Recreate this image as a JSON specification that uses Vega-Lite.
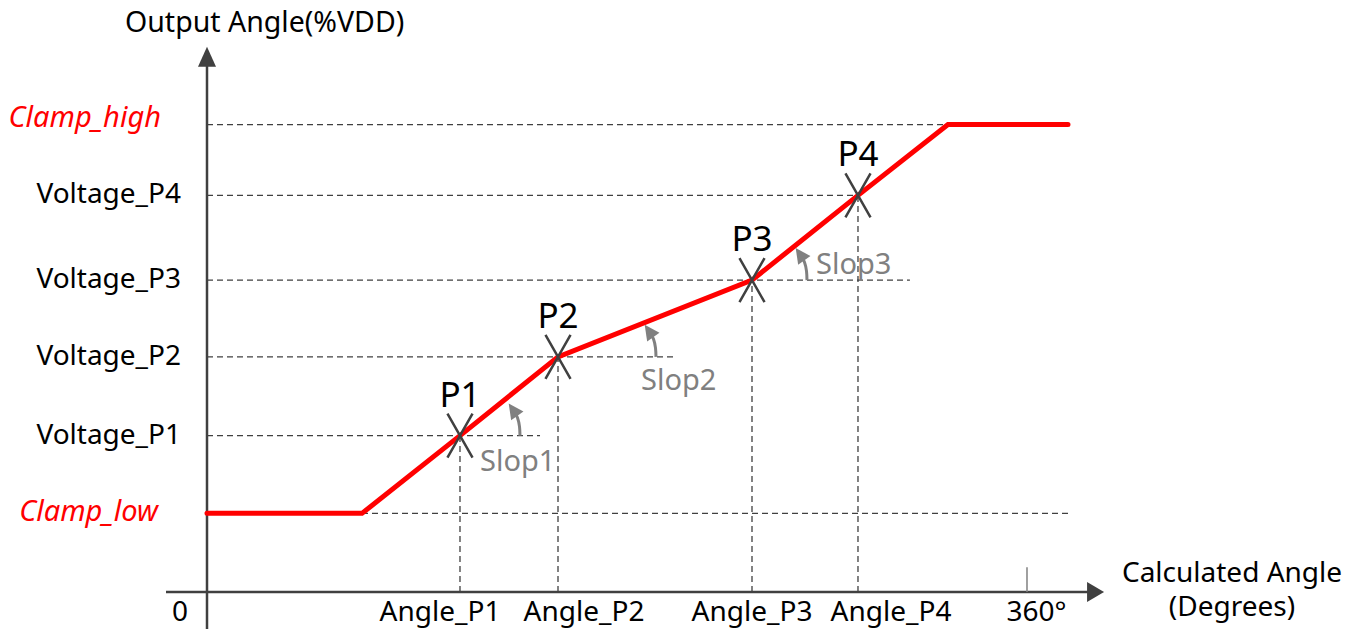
{
  "$schema": "https://vega.github.io/schema/vega-lite/v6.json",
  "width": 1359,
  "height": 631,
  "autosize": {"type": "fit", "contains": "padding"},
  "padding": 0,
  "background": "white",
  "config": {"view": {"stroke": null}, "text": {"font": "Noto Sans"}},
  "encoding": {
    "x": {"field": "x", "type": "quantitative", "scale": {"domain": [-90.88, 505.76], "nice": false, "zero": false}, "axis": null},
    "y": {"field": "y", "type": "quantitative", "scale": {"domain": [-7.4, 118.8], "nice": false, "zero": false}, "axis": null}
  },
  "layer": [
    {
      "data": {"values": [
        {"x": 0, "y": 93.8, "x2": 325.3, "y2": 93.8},
        {"x": 0, "y": 79.6, "x2": 285.8, "y2": 79.6},
        {"x": 0, "y": 62.6, "x2": 308.6, "y2": 62.6},
        {"x": 0, "y": 47.2, "x2": 205.9, "y2": 47.2},
        {"x": 0, "y": 31.4, "x2": 146.2, "y2": 31.4},
        {"x": 68.05, "y": 15.8, "x2": 378.0, "y2": 15.8},
        {"x": 111.07, "y": 0, "x2": 111.07, "y2": 31.4},
        {"x": 154.1, "y": 0, "x2": 154.1, "y2": 47.2},
        {"x": 239.27, "y": 0, "x2": 239.27, "y2": 62.6},
        {"x": 285.8, "y": 0, "x2": 285.8, "y2": 79.6}
      ]},
      "mark": {"type": "rule", "color": "#404040", "strokeWidth": 1.3, "strokeDash": [6, 4]},
      "encoding": {"x2": {"field": "x2"}, "y2": {"field": "y2"}}
    },
    {
      "data": {"values": [
        {"x": 0, "y": -7.4, "x2": 0, "y2": 106.4},
        {"x": -18, "y": 0, "x2": 387.66, "y2": 0}
      ]},
      "mark": {"type": "rule", "color": "#404040", "strokeWidth": 2.5},
      "encoding": {"x2": {"field": "x2"}, "y2": {"field": "y2"}}
    },
    {
      "data": {"values": [
        {"x": 360, "y": 0, "x2": 360, "y2": 5}
      ]},
      "mark": {"type": "rule", "color": "#808080", "strokeWidth": 1.5},
      "encoding": {"x2": {"field": "x2"}, "y2": {"field": "y2"}}
    },
    {
      "data": {"values": [{"x": 0, "y": 107.4}]},
      "mark": {"type": "point", "shape": "M0,-1L0.9,1L-0.9,1Z", "size": 400, "filled": true, "color": "#404040", "opacity": 1}
    },
    {
      "data": {"values": [{"x": 390.1, "y": 0}]},
      "mark": {"type": "point", "shape": "M0.85,0L-0.85,-1L-0.85,1Z", "size": 400, "filled": true, "color": "#404040", "opacity": 1}
    },
    {
      "data": {"values": [
        {"x": 0, "y": 15.8},
        {"x": 68.05, "y": 15.8},
        {"x": 111.07, "y": 31.4},
        {"x": 154.1, "y": 47.2},
        {"x": 239.27, "y": 62.6},
        {"x": 285.8, "y": 79.6},
        {"x": 325.3, "y": 93.8},
        {"x": 378.0, "y": 93.8}
      ]},
      "mark": {"type": "line", "color": "#ff0000", "strokeWidth": 5, "strokeCap": "round"}
    },
    {
      "data": {"values": [
        {"g": "Slop1", "o": 1, "x": 137.41, "y": 31.4},
        {"g": "Slop1", "o": 2, "x": 137.2, "y": 33.2},
        {"g": "Slop1", "o": 3, "x": 136.32, "y": 35.0},
        {"g": "Slop1", "o": 4, "x": 134.8, "y": 36.3},
        {"g": "Slop2", "o": 1, "x": 197.12, "y": 47.2},
        {"g": "Slop2", "o": 2, "x": 196.9, "y": 49.0},
        {"g": "Slop2", "o": 3, "x": 196.02, "y": 50.8},
        {"g": "Slop2", "o": 4, "x": 194.5, "y": 52.1},
        {"g": "Slop3", "o": 1, "x": 263.41, "y": 62.6},
        {"g": "Slop3", "o": 2, "x": 263.2, "y": 64.4},
        {"g": "Slop3", "o": 3, "x": 262.32, "y": 66.2},
        {"g": "Slop3", "o": 4, "x": 260.8, "y": 67.5}
      ]},
      "mark": {"type": "line", "color": "#808080", "strokeWidth": 3, "interpolate": "natural"},
      "encoding": {"detail": {"field": "g"}, "order": {"field": "o", "type": "quantitative"}}
    },
    {
      "data": {"values": [
        {"g": "Slop1", "x": 134.34, "y": 36.6},
        {"g": "Slop2", "x": 194.05, "y": 52.4},
        {"g": "Slop3", "x": 260.34, "y": 67.8}
      ]},
      "mark": {"type": "point", "shape": "M0,-1L1,1L-1,1Z", "size": 225, "angle": -35, "filled": true, "color": "#808080", "opacity": 1}
    },
    {
      "data": {"values": [
        {"p": "P1", "x": 111.07, "y": 31.4},
        {"p": "P2", "x": 154.1, "y": 47.2},
        {"p": "P3", "x": 239.27, "y": 62.6},
        {"p": "P4", "x": 285.8, "y": 79.6}
      ]},
      "layer": [
        {"mark": {"type": "point", "shape": "M-0.57,-1L0.57,1M0.57,-1L-0.57,1", "size": 1936, "filled": false, "color": "#404040", "strokeWidth": 2.5, "opacity": 1}},
        {"mark": {"type": "text", "fontSize": 35, "align": "center", "baseline": "alphabetic", "dy": -29, "color": "#000000"}, "encoding": {"text": {"field": "p"}}}
      ]
    },
    {
      "data": {"values": [
        {"t": "Voltage_P4", "x": -11.41, "y": 79.6},
        {"t": "Voltage_P3", "x": -11.41, "y": 62.6},
        {"t": "Voltage_P2", "x": -11.41, "y": 47.2},
        {"t": "Voltage_P1", "x": -11.41, "y": 31.4}
      ]},
      "mark": {"type": "text", "fontSize": 28, "align": "right", "baseline": "middle", "color": "#000000"},
      "encoding": {"text": {"field": "t"}}
    },
    {
      "data": {"values": [
        {"t": "Clamp_high", "x": -20.2, "y": 95.2},
        {"t": "Clamp_low", "x": -21.5, "y": 16.0}
      ]},
      "mark": {"type": "text", "fontSize": 29, "fontStyle": "italic", "align": "right", "baseline": "middle", "color": "#ff0000"},
      "encoding": {"text": {"field": "t"}}
    },
    {
      "data": {"values": [
        {"t": "0", "x": -11.85, "y": -5.8},
        {"t": "Angle_P1", "x": 102.29, "y": -5.8},
        {"t": "Angle_P2", "x": 165.51, "y": -5.8},
        {"t": "Angle_P3", "x": 239.27, "y": -5.8},
        {"t": "Angle_P4", "x": 300.29, "y": -5.8},
        {"t": "360°", "x": 364.2, "y": -5.8}
      ]},
      "mark": {"type": "text", "fontSize": 28, "align": "center", "baseline": "alphabetic", "color": "#000000"},
      "encoding": {"text": {"field": "t"}}
    },
    {
      "data": {"values": [
        {"t": "Calculated Angle", "x": 450.0, "y": 2.1},
        {"t": "(Degrees)", "x": 450.0, "y": -4.8}
      ]},
      "mark": {"type": "text", "fontSize": 28, "align": "center", "baseline": "alphabetic", "color": "#000000"},
      "encoding": {"text": {"field": "t"}}
    },
    {
      "data": {"values": [
        {"t": "Output Angle(%VDD)", "x": -36.0, "y": 112.4}
      ]},
      "mark": {"type": "text", "fontSize": 28.5, "align": "left", "baseline": "alphabetic", "color": "#000000"},
      "encoding": {"text": {"field": "t"}}
    },
    {
      "data": {"values": [
        {"t": "Slop1", "x": 119.85, "y": 24.4},
        {"t": "Slop2", "x": 190.54, "y": 40.6},
        {"t": "Slop3", "x": 267.37, "y": 63.8}
      ]},
      "mark": {"type": "text", "fontSize": 29, "align": "left", "baseline": "alphabetic", "color": "#808080"},
      "encoding": {"text": {"field": "t"}}
    }
  ]
}
